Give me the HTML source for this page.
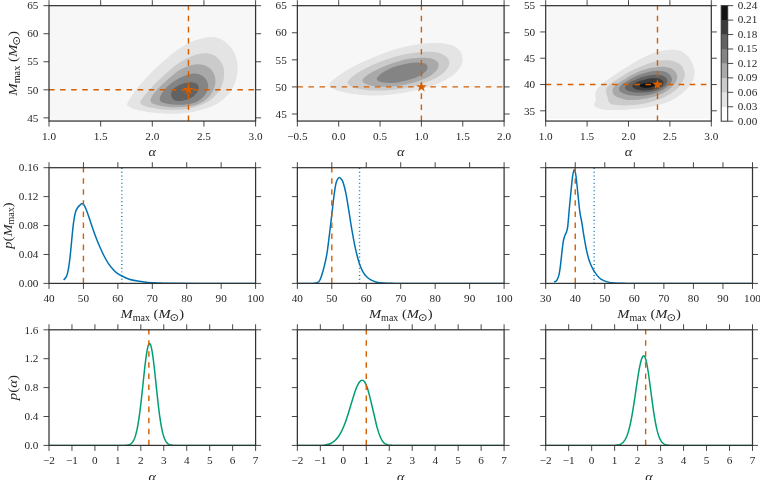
<!DOCTYPE html>
<html><head><meta charset="utf-8"><title>Posterior plots</title>
<style>html,body{margin:0;padding:0;background:#fff}svg{display:block}</style></head>
<body>
<svg width="760" height="480" viewBox="0 0 760 480">
<style>.t{font-family:'Liberation Serif', 'DejaVu Serif', serif;font-size:11.2px;fill:#262626}.l{font-family:'Liberation Serif', 'DejaVu Serif', serif;font-size:13.5px;fill:#262626}</style>
<rect width="760" height="480" fill="#fff"/>
<rect x="49" y="5.67" width="206.6" height="115.38" fill="#f7f7f7"/>
<path d="M127.13,104.11C127.44,102.39 129.32,99.57 131.26,96.6C133.2,93.63 135.95,89.72 138.76,86.29C141.58,82.85 145.02,79.25 148.14,75.97C151.27,72.68 154.4,69.56 157.52,66.59C160.65,63.61 163.78,60.8 166.9,58.14C170.03,55.48 173.16,52.89 176.29,50.64C179.41,48.39 182.54,46.35 185.67,44.63C188.79,42.91 191.92,41.44 195.05,40.32C198.17,39.19 201.61,38.41 204.43,37.88C207.24,37.35 209.43,37.04 211.93,37.13C214.43,37.22 216.94,37.44 219.44,38.44C221.94,39.44 224.75,41.26 226.94,43.13C229.13,45.01 231.01,47.2 232.57,49.7C234.13,52.2 235.48,55.17 236.32,58.14C237.17,61.11 237.57,64.4 237.64,67.52C237.7,70.65 237.39,73.78 236.7,76.9C236.01,80.03 234.98,83.31 233.51,86.29C232.04,89.26 230.23,92.07 227.88,94.73C225.53,97.39 222.72,100.04 219.44,102.23C216.15,104.42 212.25,106.3 208.18,107.86C204.12,109.42 199.74,110.68 195.05,111.61C190.36,112.55 185.04,113.18 180.04,113.49C175.03,113.8 170.03,113.71 165.03,113.49C160.03,113.27 154.71,112.8 150.02,112.18C145.33,111.55 140.33,110.61 136.89,109.74C133.45,108.86 131.01,107.86 129.38,106.92C127.75,105.98 126.82,105.83 127.13,104.11Z" fill="#e4e4e4"/>
<path d="M140.26,102.23C140.42,100.61 142.45,98.17 144.39,95.67C146.33,93.16 149.08,90.19 151.89,87.22C154.71,84.25 158.15,80.81 161.28,77.84C164.4,74.87 167.53,71.99 170.66,69.4C173.78,66.8 176.91,64.3 180.04,62.27C183.16,60.24 186.29,58.58 189.42,57.2C192.55,55.83 195.98,54.67 198.8,54.02C201.61,53.36 203.8,53.05 206.3,53.26C208.81,53.48 211.62,54.2 213.81,55.33C216,56.45 217.87,58.14 219.44,60.02C221,61.89 222.41,64.08 223.19,66.59C223.97,69.09 224.28,72.06 224.13,75.03C223.97,78 223.35,81.44 222.25,84.41C221.16,87.38 219.59,90.19 217.56,92.85C215.53,95.51 212.87,98.32 210.06,100.36C207.24,102.39 204.12,103.7 200.68,105.05C197.24,106.39 193.48,107.64 189.42,108.42C185.35,109.21 180.66,109.55 176.29,109.74C171.91,109.92 167.22,109.86 163.15,109.55C159.09,109.24 155.18,108.55 151.89,107.86C148.61,107.17 145.39,106.36 143.45,105.42C141.51,104.48 140.11,103.86 140.26,102.23Z" fill="#cbcbcb"/>
<path d="M150.39,100.36C150.55,98.73 151.96,96.29 153.77,93.79C155.58,91.29 158.46,88.16 161.28,85.35C164.09,82.53 167.53,79.5 170.66,76.9C173.78,74.31 176.91,71.65 180.04,69.77C183.16,67.9 186.6,66.59 189.42,65.65C192.23,64.71 194.42,64.21 196.92,64.15C199.42,64.08 202.08,64.4 204.43,65.27C206.77,66.15 209.27,67.62 210.99,69.4C212.71,71.18 214.03,73.62 214.75,75.97C215.47,78.31 215.62,80.97 215.31,83.47C215,85.97 214.22,88.47 212.87,90.98C211.53,93.48 209.59,96.35 207.24,98.48C204.9,100.61 202.08,102.39 198.8,103.73C195.52,105.08 191.61,105.95 187.54,106.55C183.48,107.14 178.79,107.39 174.41,107.3C170.03,107.2 164.87,106.61 161.28,105.98C157.68,105.36 154.65,104.48 152.83,103.55C151.02,102.61 150.24,101.98 150.39,100.36Z" fill="#a9a9a9"/>
<path d="M159.77,99.42C159.62,97.76 160.71,95.2 162.21,92.85C163.71,90.51 166.12,87.69 168.78,85.35C171.44,83 175.03,80.56 178.16,78.78C181.29,77 184.73,75.53 187.54,74.65C190.36,73.78 192.7,73.4 195.05,73.53C197.39,73.65 199.74,74.37 201.61,75.4C203.49,76.44 205.21,77.9 206.3,79.72C207.4,81.53 208.18,84.1 208.18,86.29C208.18,88.47 207.4,90.82 206.3,92.85C205.21,94.88 203.65,96.82 201.61,98.48C199.58,100.14 197.08,101.76 194.11,102.8C191.14,103.83 187.39,104.39 183.79,104.67C180.19,104.95 175.97,104.8 172.53,104.48C169.09,104.17 165.28,103.64 163.15,102.8C161.03,101.95 159.93,101.08 159.77,99.42Z" fill="#848484"/>
<path d="M171.03,94.73C171.03,93.01 171.97,90.76 173.47,89.1C174.97,87.44 177.54,85.88 180.04,84.78C182.54,83.69 185.98,82.85 188.48,82.53C190.98,82.22 193.39,82.35 195.05,82.91C196.7,83.47 197.95,84.57 198.42,85.91C198.89,87.25 198.58,89.35 197.86,90.98C197.14,92.6 195.83,94.26 194.11,95.67C192.39,97.07 190.04,98.54 187.54,99.42C185.04,100.29 181.44,100.92 179.1,100.92C176.75,100.92 174.82,100.45 173.47,99.42C172.13,98.39 171.03,96.45 171.03,94.73Z" fill="#626262"/>
<path d="M188.46,121.05V5.67" stroke="#d55e00" stroke-width="1.4" stroke-dasharray="5.54,5.54" fill="none"/>
<path d="M49,89.81H255.6" stroke="#d55e00" stroke-width="1.4" stroke-dasharray="5.54,5.54" fill="none"/>
<path d="M188.46,84.11L189.73,88.05L193.88,88.05L190.53,90.48L191.81,94.42L188.46,91.98L185.1,94.42L186.38,90.48L183.03,88.05L187.18,88.05Z" fill="#d55e00"/>
<rect x="297.35" y="5.67" width="206.75" height="115.38" fill="#f7f7f7"/>
<path d="M329.47,84.86C329.31,83.15 331.78,81.25 333.81,79.34C335.85,77.43 338.75,75.39 341.71,73.42C344.67,71.44 347.96,69.47 351.58,67.5C355.2,65.52 359.14,63.55 363.42,61.58C367.69,59.6 372.63,57.47 377.23,55.66C381.84,53.85 386.44,52.2 391.05,50.72C395.65,49.24 400.26,47.86 404.86,46.78C409.47,45.69 414.07,44.83 418.68,44.21C423.28,43.58 428.22,43.16 432.49,43.03C436.77,42.89 440.72,42.89 444.33,43.42C447.95,43.95 451.5,44.8 454.2,46.18C456.9,47.56 459.14,49.64 460.52,51.71C461.9,53.78 462.39,56.31 462.49,58.62C462.59,60.92 462.16,63.22 461.11,65.52C460.06,67.83 458.31,70.29 456.18,72.43C454.04,74.57 451.57,76.38 448.28,78.35C444.99,80.33 440.72,82.53 436.44,84.27C432.16,86.02 427.56,87.5 422.62,88.81C417.69,90.13 412.1,91.21 406.84,92.17C401.57,93.12 396.31,93.98 391.05,94.54C385.79,95.09 380.52,95.49 375.26,95.52C370,95.55 364.4,95.19 359.47,94.73C354.54,94.27 349.77,93.61 345.66,92.76C341.54,91.9 337.5,90.92 334.8,89.6C332.1,88.29 329.64,86.58 329.47,84.86Z" fill="#e4e4e4"/>
<path d="M347.63,82.3C347.79,80.59 350.26,78.35 352.56,76.38C354.87,74.4 357.99,72.43 361.44,70.46C364.9,68.48 369.01,66.41 373.29,64.54C377.56,62.66 382.5,60.75 387.1,59.21C391.71,57.66 396.31,56.35 400.92,55.26C405.52,54.18 410.13,53.29 414.73,52.7C419.34,52.1 424.6,51.71 428.55,51.71C432.49,51.71 435.45,51.87 438.41,52.7C441.37,53.52 444.5,55.16 446.31,56.64C448.12,58.12 449,59.77 449.27,61.58C449.53,63.39 449.04,65.46 447.89,67.5C446.74,69.54 444.76,71.84 442.36,73.81C439.96,75.79 437.1,77.6 433.48,79.34C429.86,81.08 425.09,82.86 420.65,84.27C416.21,85.69 411.77,86.87 406.84,87.83C401.9,88.78 396.31,89.54 391.05,90C385.79,90.46 380.19,90.72 375.26,90.59C370.33,90.46 365.39,89.86 361.44,89.21C357.5,88.55 353.88,87.79 351.58,86.64C349.27,85.49 347.47,84.01 347.63,82.3Z" fill="#cbcbcb"/>
<path d="M362.43,80.92C362.1,79.4 364.24,77.53 366.38,75.79C368.52,74.04 371.81,72.23 375.26,70.46C378.71,68.68 383.15,66.68 387.1,65.13C391.05,63.58 395,62.27 398.94,61.18C402.89,60.1 406.84,59.21 410.78,58.62C414.73,58.02 419.17,57.63 422.62,57.63C426.08,57.63 429.04,57.89 431.51,58.62C433.97,59.34 436.28,60.66 437.43,61.97C438.58,63.29 438.74,64.93 438.41,66.51C438.08,68.09 437.1,69.73 435.45,71.44C433.81,73.16 431.34,75.19 428.55,76.77C425.75,78.35 422.3,79.67 418.68,80.92C415.06,82.17 411.11,83.38 406.84,84.27C402.56,85.16 397.63,85.85 393.02,86.25C388.42,86.64 383.32,86.87 379.21,86.64C375.1,86.41 371.15,85.82 368.35,84.86C365.56,83.91 362.76,82.43 362.43,80.92Z" fill="#a9a9a9"/>
<path d="M376.84,78.94C376.84,77.73 378.32,75.98 380.19,74.4C382.07,72.83 384.96,70.95 388.09,69.47C391.21,67.99 395.49,66.58 398.94,65.52C402.4,64.47 405.52,63.65 408.81,63.16C412.1,62.66 415.88,62.43 418.68,62.56C421.47,62.7 424.1,63.12 425.59,63.95C427.07,64.77 427.56,66.25 427.56,67.5C427.56,68.75 426.9,70.06 425.59,71.44C424.27,72.83 422.13,74.47 419.66,75.79C417.2,77.1 414.07,78.32 410.78,79.34C407.49,80.36 403.55,81.31 399.93,81.9C396.31,82.5 392.36,82.92 389.07,82.89C385.79,82.86 382.23,82.36 380.19,81.71C378.15,81.05 376.84,80.16 376.84,78.94Z" fill="#848484"/>
<path d="M421.4,121.05V5.67" stroke="#d55e00" stroke-width="1.4" stroke-dasharray="5.54,5.54" fill="none"/>
<path d="M297.35,86.92H504.1" stroke="#d55e00" stroke-width="1.4" stroke-dasharray="5.54,5.54" fill="none"/>
<path d="M421.4,81.22L422.68,85.16L426.82,85.16L423.47,87.6L424.75,91.53L421.4,89.1L418.05,91.53L419.33,87.6L415.98,85.16L420.12,85.16Z" fill="#d55e00"/>
<rect x="548" y="5.67" width="162.1" height="113.18" fill="#f7f7f7"/>
<path d="M594.17,105.83C593.19,104.31 595.64,102.08 595.83,100C596.03,97.92 594.92,95.42 595.33,93.33C595.75,91.25 596.72,89.44 598.33,87.5C599.94,85.56 602.5,83.61 605,81.67C607.5,79.72 610.56,77.78 613.33,75.83C616.11,73.89 618.61,71.94 621.67,70C624.72,68.06 628.33,66.11 631.67,64.17C635,62.22 638.33,60.08 641.67,58.33C645,56.58 648.33,54.92 651.67,53.67C655,52.42 658.33,51.5 661.67,50.83C665,50.17 668.61,49.67 671.67,49.67C674.72,49.67 677.5,49.94 680,50.83C682.5,51.72 684.72,53.19 686.67,55C688.61,56.81 690.42,59.31 691.67,61.67C692.92,64.03 693.75,66.67 694.17,69.17C694.58,71.67 694.72,74.17 694.17,76.67C693.61,79.17 692.36,81.81 690.83,84.17C689.31,86.53 687.36,88.61 685,90.83C682.64,93.06 679.72,95.56 676.67,97.5C673.61,99.44 670.28,101.11 666.67,102.5C663.06,103.89 659.17,104.86 655,105.83C650.83,106.81 646.39,107.69 641.67,108.33C636.94,108.97 631.39,109.39 626.67,109.67C621.94,109.94 617.5,110.08 613.33,110C609.17,109.92 604.86,109.86 601.67,109.17C598.47,108.47 595.14,107.36 594.17,105.83Z" fill="#e4e4e4"/>
<path d="M610,103.33C607.92,101.89 608.19,98.89 607.5,96.67C606.81,94.44 605.42,92.08 605.83,90C606.25,87.92 607.92,86.06 610,84.17C612.08,82.28 615.56,80.47 618.33,78.67C621.11,76.86 623.61,75.06 626.67,73.33C629.72,71.61 633.33,69.86 636.67,68.33C640,66.81 643.33,65.33 646.67,64.17C650,63 653.33,61.97 656.67,61.33C660,60.69 663.61,60.28 666.67,60.33C669.72,60.39 672.64,60.89 675,61.67C677.36,62.44 679.31,63.47 680.83,65C682.36,66.53 683.53,68.89 684.17,70.83C684.81,72.78 685.08,74.58 684.67,76.67C684.25,78.75 683,81.25 681.67,83.33C680.33,85.42 678.89,87.22 676.67,89.17C674.44,91.11 671.39,93.25 668.33,95C665.28,96.75 661.94,98.33 658.33,99.67C654.72,101 650.83,102.11 646.67,103C642.5,103.89 637.78,104.61 633.33,105C628.89,105.39 623.89,105.61 620,105.33C616.11,105.06 612.08,104.78 610,103.33Z" fill="#cbcbcb"/>
<path d="M615,95.83C612.78,94.22 612.36,91.81 612.5,90C612.64,88.19 614.03,86.67 615.83,85C617.64,83.33 620.42,81.81 623.33,80C626.25,78.19 630,75.83 633.33,74.17C636.67,72.5 640,71.11 643.33,70C646.67,68.89 650,68.06 653.33,67.5C656.67,66.94 660.42,66.53 663.33,66.67C666.25,66.81 668.75,67.36 670.83,68.33C672.92,69.31 674.78,70.97 675.83,72.5C676.89,74.03 677.31,75.69 677.17,77.5C677.03,79.31 676.33,81.39 675,83.33C673.67,85.28 671.53,87.36 669.17,89.17C666.81,90.97 663.89,92.78 660.83,94.17C657.78,95.56 654.58,96.58 650.83,97.5C647.08,98.42 642.5,99.31 638.33,99.67C634.17,100.03 629.72,100.31 625.83,99.67C621.94,99.03 617.22,97.44 615,95.83Z" fill="#a9a9a9"/>
<path d="M619.17,90C618.89,88.72 619.44,86.86 620.83,85.33C622.22,83.81 624.86,82.42 627.5,80.83C630.14,79.25 633.47,77.22 636.67,75.83C639.86,74.44 643.33,73.33 646.67,72.5C650,71.67 653.61,70.97 656.67,70.83C659.72,70.69 662.78,70.97 665,71.67C667.22,72.36 668.83,73.61 670,75C671.17,76.39 672.14,78.33 672,80C671.86,81.67 670.75,83.33 669.17,85C667.58,86.67 665.14,88.56 662.5,90C659.86,91.44 656.81,92.69 653.33,93.67C649.86,94.64 645.56,95.56 641.67,95.83C637.78,96.11 633.19,95.81 630,95.33C626.81,94.86 624.31,93.89 622.5,93C620.69,92.11 619.44,91.28 619.17,90Z" fill="#848484"/>
<path d="M625,87.5C625.06,86.19 626.72,84.39 628.67,83C630.61,81.61 633.67,80.36 636.67,79.17C639.67,77.97 643.33,76.58 646.67,75.83C650,75.08 653.75,74.58 656.67,74.67C659.58,74.75 662.36,75.31 664.17,76.33C665.97,77.36 667.36,79.25 667.5,80.83C667.64,82.42 666.53,84.36 665,85.83C663.47,87.31 661.11,88.61 658.33,89.67C655.56,90.72 651.94,91.69 648.33,92.17C644.72,92.64 640,92.72 636.67,92.5C633.33,92.28 630.28,91.67 628.33,90.83C626.39,90 624.94,88.81 625,87.5Z" fill="#626262"/>
<path d="M632.5,86.67C632.08,85.56 633.33,84.06 635,83C636.67,81.94 639.72,81.11 642.5,80.33C645.28,79.56 648.89,78.61 651.67,78.33C654.44,78.06 657.22,78.11 659.17,78.67C661.11,79.22 662.86,80.47 663.33,81.67C663.81,82.86 663.25,84.67 662,85.83C660.75,87 658.39,87.92 655.83,88.67C653.28,89.42 649.72,90.17 646.67,90.33C643.61,90.5 639.86,90.28 637.5,89.67C635.14,89.06 632.92,87.78 632.5,86.67Z" fill="#3b3b3b"/>
<path d="M639.67,85.5C639.81,84.92 641.06,84.14 642.5,83.67C643.94,83.19 646.53,82.78 648.33,82.67C650.14,82.56 652.22,82.67 653.33,83C654.44,83.33 655.14,84.06 655,84.67C654.86,85.28 653.89,86.17 652.5,86.67C651.11,87.17 648.47,87.58 646.67,87.67C644.86,87.75 642.83,87.53 641.67,87.17C640.5,86.81 639.53,86.08 639.67,85.5Z" fill="#121212"/>
<path d="M657.48,121.05V5.67" stroke="#d55e00" stroke-width="1.4" stroke-dasharray="5.54,5.54" fill="none"/>
<path d="M545.7,84.52H711.3" stroke="#d55e00" stroke-width="1.4" stroke-dasharray="5.54,5.54" fill="none"/>
<path d="M657.48,78.82L658.76,82.76L662.9,82.76L659.55,85.19L660.83,89.13L657.48,86.69L654.13,89.13L655.41,85.19L652.06,82.76L656.2,82.76Z" fill="#d55e00"/>
<path d="M49,121.05v5.5M49,5.67v-5.5M100.65,121.05v5.5M100.65,5.67v-5.5M152.3,121.05v5.5M152.3,5.67v-5.5M203.95,121.05v5.5M203.95,5.67v-5.5M255.6,121.05v5.5M255.6,5.67v-5.5M49,117.85h-5.5M255.6,117.85h5.5M49,89.81h-5.5M255.6,89.81h5.5M49,61.76h-5.5M255.6,61.76h5.5M49,33.72h-5.5M255.6,33.72h5.5M49,5.67h-5.5M255.6,5.67h5.5" stroke="#333333" stroke-width="0.9" fill="none"/>
<rect x="49" y="5.67" width="206.6" height="115.38" fill="none" stroke="#333333" stroke-width="1.25"/>
<text x="49" y="139.95" text-anchor="middle" class="t">1.0</text>
<text x="100.65" y="139.95" text-anchor="middle" class="t">1.5</text>
<text x="152.3" y="139.95" text-anchor="middle" class="t">2.0</text>
<text x="203.95" y="139.95" text-anchor="middle" class="t">2.5</text>
<text x="255.6" y="139.95" text-anchor="middle" class="t">3.0</text>
<text x="38.4" y="121.55" text-anchor="end" class="t">45</text>
<text x="38.4" y="93.51" text-anchor="end" class="t">50</text>
<text x="38.4" y="65.46" text-anchor="end" class="t">55</text>
<text x="38.4" y="37.42" text-anchor="end" class="t">60</text>
<text x="38.4" y="9.37" text-anchor="end" class="t">65</text>
<path d="M297.35,121.05v5.5M297.35,5.67v-5.5M338.7,121.05v5.5M338.7,5.67v-5.5M380.05,121.05v5.5M380.05,5.67v-5.5M421.4,121.05v5.5M421.4,5.67v-5.5M462.75,121.05v5.5M462.75,5.67v-5.5M504.1,121.05v5.5M504.1,5.67v-5.5M297.35,114.01h-5.5M504.1,114.01h5.5M297.35,86.92h-5.5M504.1,86.92h5.5M297.35,59.84h-5.5M504.1,59.84h5.5M297.35,32.75h-5.5M504.1,32.75h5.5M297.35,5.67h-5.5M504.1,5.67h5.5" stroke="#333333" stroke-width="0.9" fill="none"/>
<rect x="297.35" y="5.67" width="206.75" height="115.38" fill="none" stroke="#333333" stroke-width="1.25"/>
<text x="297.35" y="139.95" text-anchor="middle" class="t">−0.5</text>
<text x="338.7" y="139.95" text-anchor="middle" class="t">0.0</text>
<text x="380.05" y="139.95" text-anchor="middle" class="t">0.5</text>
<text x="421.4" y="139.95" text-anchor="middle" class="t">1.0</text>
<text x="462.75" y="139.95" text-anchor="middle" class="t">1.5</text>
<text x="504.1" y="139.95" text-anchor="middle" class="t">2.0</text>
<text x="286.75" y="117.71" text-anchor="end" class="t">45</text>
<text x="286.75" y="90.62" text-anchor="end" class="t">50</text>
<text x="286.75" y="63.54" text-anchor="end" class="t">55</text>
<text x="286.75" y="36.45" text-anchor="end" class="t">60</text>
<text x="286.75" y="9.37" text-anchor="end" class="t">65</text>
<path d="M545.7,121.05v5.5M545.7,5.67v-5.5M587.1,121.05v5.5M587.1,5.67v-5.5M628.5,121.05v5.5M628.5,5.67v-5.5M669.9,121.05v5.5M669.9,5.67v-5.5M711.3,121.05v5.5M711.3,5.67v-5.5M545.7,110.8h-5.5M711.3,110.8h5.5M545.7,84.52h-5.5M711.3,84.52h5.5M545.7,58.23h-5.5M711.3,58.23h5.5M545.7,31.95h-5.5M711.3,31.95h5.5M545.7,5.67h-5.5M711.3,5.67h5.5" stroke="#333333" stroke-width="0.9" fill="none"/>
<rect x="545.7" y="5.67" width="165.6" height="115.38" fill="none" stroke="#333333" stroke-width="1.25"/>
<text x="545.7" y="139.95" text-anchor="middle" class="t">1.0</text>
<text x="587.1" y="139.95" text-anchor="middle" class="t">1.5</text>
<text x="628.5" y="139.95" text-anchor="middle" class="t">2.0</text>
<text x="669.9" y="139.95" text-anchor="middle" class="t">2.5</text>
<text x="711.3" y="139.95" text-anchor="middle" class="t">3.0</text>
<text x="535.1" y="114.5" text-anchor="end" class="t">35</text>
<text x="535.1" y="88.22" text-anchor="end" class="t">40</text>
<text x="535.1" y="61.93" text-anchor="end" class="t">45</text>
<text x="535.1" y="35.65" text-anchor="end" class="t">50</text>
<text x="535.1" y="9.37" text-anchor="end" class="t">55</text>
<text transform="translate(152.3,155.95) scale(1.06,1)" text-anchor="middle" class="l"><tspan font-style="italic">α</tspan></text>
<text transform="translate(400.73,155.95) scale(1.06,1)" text-anchor="middle" class="l"><tspan font-style="italic">α</tspan></text>
<text transform="translate(628.5,155.95) scale(1.06,1)" text-anchor="middle" class="l"><tspan font-style="italic">α</tspan></text>
<text transform="translate(17.3,63.36) rotate(-90) scale(1.1,1)" text-anchor="middle" class="l"><tspan font-style="italic">M</tspan><tspan font-size="9.3" dy="2.6">max</tspan><tspan dy="-2.6"> (</tspan><tspan font-style="italic">M</tspan><tspan font-size="10.6" dy="3.0" dx="-0.9" font-family="DejaVu Sans, sans-serif">⊙</tspan><tspan dy="-3.0">)</tspan></text>
<rect x="721.2" y="106.76" width="6.5" height="14.64" fill="#ffffff"/>
<rect x="721.2" y="92.32" width="6.5" height="14.64" fill="#e4e4e4"/>
<rect x="721.2" y="77.88" width="6.5" height="14.64" fill="#cbcbcb"/>
<rect x="721.2" y="63.44" width="6.5" height="14.64" fill="#a9a9a9"/>
<rect x="721.2" y="48.99" width="6.5" height="14.64" fill="#848484"/>
<rect x="721.2" y="34.55" width="6.5" height="14.64" fill="#626262"/>
<rect x="721.2" y="20.11" width="6.5" height="14.64" fill="#3b3b3b"/>
<rect x="721.2" y="5.67" width="6.5" height="14.64" fill="#121212"/>
<rect x="721.2" y="5.67" width="6.5" height="115.53" fill="none" stroke="#333333" stroke-width="1"/>
<text x="737.7" y="124.5" class="t">0.00</text>
<text x="737.7" y="110.06" class="t">0.03</text>
<text x="737.7" y="95.62" class="t">0.06</text>
<text x="737.7" y="81.18" class="t">0.09</text>
<text x="737.7" y="66.73" class="t">0.12</text>
<text x="737.7" y="52.29" class="t">0.15</text>
<text x="737.7" y="37.85" class="t">0.18</text>
<text x="737.7" y="23.41" class="t">0.21</text>
<text x="737.7" y="8.97" class="t">0.24</text>
<path d="M727.7,121.2h5.5M727.7,106.76h5.5M727.7,92.32h5.5M727.7,77.88h5.5M727.7,63.44h5.5M727.7,48.99h5.5M727.7,34.55h5.5M727.7,20.11h5.5M727.7,5.67h5.5" stroke="#333333" stroke-width="0.9" fill="none"/>
<path d="M121.83,283.4V167.7" stroke="#0072b2" stroke-width="1.4" stroke-dasharray="0.95,2.74" fill="none"/>
<clipPath id="cm0"><rect x="49" y="167.7" width="206.6" height="115.7"/></clipPath>
<path d="M63.6,280.05C63.87,279.76 64.73,278.91 65.2,278.3C65.67,277.69 66.08,277.18 66.45,276.4C66.82,275.62 67.11,274.65 67.4,273.6C67.69,272.55 67.88,271.83 68.2,270.1C68.52,268.37 68.92,266.07 69.3,263.2C69.68,260.33 70.12,256.52 70.5,252.9C70.88,249.28 71.23,245.27 71.6,241.45C71.97,237.63 72.33,233.44 72.7,230C73.07,226.56 73.32,223.83 73.8,220.8C74.28,217.77 74.95,214 75.6,211.8C76.25,209.6 76.95,208.73 77.7,207.6C78.45,206.47 79.37,205.67 80.1,205C80.83,204.33 81.38,203.5 82.1,203.6C82.82,203.7 83.5,204.05 84.4,205.6C85.3,207.15 86.28,209.6 87.5,212.9C88.72,216.2 90.32,221.4 91.7,225.4C93.08,229.4 94.42,233.25 95.8,236.9C97.18,240.55 98.6,244.08 100,247.3C101.4,250.53 102.82,253.58 104.2,256.25C105.58,258.92 106.92,261.22 108.3,263.3C109.68,265.38 111.1,267.15 112.5,268.75C113.9,270.35 115.13,271.69 116.7,272.9C118.27,274.11 119.82,274.95 121.9,276C123.98,277.05 126.6,278.37 129.2,279.2C131.8,280.03 134.38,280.47 137.5,281C140.62,281.53 144.43,282.07 147.9,282.4C151.37,282.73 154.62,282.85 158.3,283C161.98,283.15 163.05,283.21 170,283.3C176.95,283.39 185.67,283.5 200,283.55C214.33,283.6 246.67,283.59 256,283.6" stroke="#0072b2" stroke-width="1.5" fill="none" stroke-linejoin="round" clip-path="url(#cm0)"/>
<path d="M83.43,283.4V167.7" stroke="#d55e00" stroke-width="1.4" stroke-dasharray="5.54,5.54" fill="none"/>
<path d="M359.55,283.4V167.7" stroke="#0072b2" stroke-width="1.4" stroke-dasharray="0.95,2.74" fill="none"/>
<clipPath id="cm1"><rect x="297.35" y="167.7" width="206.75" height="115.7"/></clipPath>
<path d="M297.4,283.6C299.33,283.59 306.57,283.58 309,283.55C311.43,283.52 311.08,283.47 312,283.4C312.92,283.33 313.67,283.28 314.5,283.15C315.33,283.02 316.23,282.89 317,282.6C317.77,282.31 318.43,282.3 319.1,281.4C319.78,280.5 320.4,278.93 321.05,277.2C321.7,275.47 322.34,273.33 323,271C323.66,268.67 324.3,266.37 325,263.2C325.7,260.03 326.4,257.28 327.2,252C328,246.72 329,238.03 329.8,231.5C330.6,224.97 331.32,218.62 332,212.8C332.68,206.98 333.27,201.33 333.9,196.6C334.52,191.87 335.17,187.25 335.75,184.4C336.33,181.55 336.81,180.63 337.4,179.5C337.99,178.37 338.67,177.68 339.3,177.6C339.93,177.52 340.53,178.1 341.2,179C341.87,179.9 342.5,180.52 343.3,183C344.1,185.48 345.09,189.38 346,193.9C346.91,198.42 347.83,204.47 348.75,210.1C349.67,215.73 350.59,222.28 351.5,227.7C352.41,233.12 353.3,238.08 354.2,242.6C355.1,247.12 356,251.18 356.9,254.8C357.8,258.42 358.62,261.5 359.6,264.3C360.58,267.1 361.67,269.57 362.8,271.6C363.93,273.63 365.13,275.15 366.4,276.5C367.67,277.85 368.83,278.8 370.4,279.7C371.97,280.6 373.53,281.33 375.8,281.9C378.07,282.47 380.83,282.85 384,283.1C387.17,283.35 390.47,283.32 394.8,283.4C399.13,283.48 391.8,283.57 410,283.6C428.2,283.63 488.33,283.6 504,283.6" stroke="#0072b2" stroke-width="1.5" fill="none" stroke-linejoin="round" clip-path="url(#cm1)"/>
<path d="M331.81,283.4V167.7" stroke="#d55e00" stroke-width="1.4" stroke-dasharray="5.54,5.54" fill="none"/>
<path d="M594.15,283.4V167.7" stroke="#0072b2" stroke-width="1.4" stroke-dasharray="0.95,2.74" fill="none"/>
<clipPath id="cm2"><rect x="545.7" y="167.7" width="206.8" height="115.7"/></clipPath>
<path d="M554,281.8C554.25,281.72 555.03,281.55 555.5,281.3C555.97,281.05 556.24,281.28 556.8,280.3C557.36,279.32 558.27,277.68 558.85,275.4C559.43,273.12 559.81,270.25 560.3,266.6C560.79,262.95 561.32,257.62 561.8,253.5C562.28,249.38 562.72,244.82 563.2,241.9C563.68,238.98 564.13,237.7 564.7,236C565.27,234.3 566.08,233.4 566.6,231.7C567.12,230 567.35,229.62 567.8,225.8C568.25,221.98 568.72,214.98 569.3,208.75C569.88,202.52 570.75,193.82 571.3,188.4C571.85,182.98 572.08,179.4 572.6,176.25C573.12,173.1 573.83,169.5 574.4,169.5C574.97,169.5 575.42,172.18 576,176.25C576.58,180.32 577.27,188.03 577.9,193.9C578.53,199.78 579.12,206.55 579.8,211.5C580.48,216.45 581.28,219.32 582,223.6C582.72,227.88 583.33,232.68 584.1,237.2C584.87,241.72 585.73,246.77 586.6,250.7C587.47,254.62 588.27,257.72 589.3,260.75C590.33,263.78 591.53,266.51 592.8,268.9C594.07,271.29 595.55,273.38 596.9,275.1C598.25,276.82 599.32,278.12 600.9,279.2C602.48,280.28 604.13,280.95 606.4,281.6C608.67,282.25 611.12,282.8 614.5,283.1C617.88,283.4 621.62,283.32 626.7,283.4C631.78,283.48 624.12,283.57 645,283.6C665.88,283.63 734.17,283.6 752,283.6" stroke="#0072b2" stroke-width="1.5" fill="none" stroke-linejoin="round" clip-path="url(#cm2)"/>
<path d="M575.24,283.4V167.7" stroke="#d55e00" stroke-width="1.4" stroke-dasharray="5.54,5.54" fill="none"/>
<path d="M49,283.4v5.5M49,167.7v-5.5M83.43,283.4v5.5M83.43,167.7v-5.5M117.87,283.4v5.5M117.87,167.7v-5.5M152.3,283.4v5.5M152.3,167.7v-5.5M186.73,283.4v5.5M186.73,167.7v-5.5M221.17,283.4v5.5M221.17,167.7v-5.5M255.6,283.4v5.5M255.6,167.7v-5.5M49,283.4h-5.5M255.6,283.4h5.5M49,254.47h-5.5M255.6,254.47h5.5M49,225.55h-5.5M255.6,225.55h5.5M49,196.62h-5.5M255.6,196.62h5.5M49,167.7h-5.5M255.6,167.7h5.5" stroke="#333333" stroke-width="0.9" fill="none"/>
<rect x="49" y="167.7" width="206.6" height="115.7" fill="none" stroke="#333333" stroke-width="1.25"/>
<text x="49" y="302.3" text-anchor="middle" class="t">40</text>
<text x="83.43" y="302.3" text-anchor="middle" class="t">50</text>
<text x="117.87" y="302.3" text-anchor="middle" class="t">60</text>
<text x="152.3" y="302.3" text-anchor="middle" class="t">70</text>
<text x="186.73" y="302.3" text-anchor="middle" class="t">80</text>
<text x="221.17" y="302.3" text-anchor="middle" class="t">90</text>
<text x="255.6" y="302.3" text-anchor="middle" class="t">100</text>
<text x="38.4" y="287.1" text-anchor="end" class="t">0.00</text>
<text x="38.4" y="258.17" text-anchor="end" class="t">0.04</text>
<text x="38.4" y="229.25" text-anchor="end" class="t">0.08</text>
<text x="38.4" y="200.32" text-anchor="end" class="t">0.12</text>
<text x="38.4" y="171.4" text-anchor="end" class="t">0.16</text>
<path d="M297.35,283.4v5.5M297.35,167.7v-5.5M331.81,283.4v5.5M331.81,167.7v-5.5M366.27,283.4v5.5M366.27,167.7v-5.5M400.73,283.4v5.5M400.73,167.7v-5.5M435.18,283.4v5.5M435.18,167.7v-5.5M469.64,283.4v5.5M469.64,167.7v-5.5M504.1,283.4v5.5M504.1,167.7v-5.5M297.35,283.4h-5.5M504.1,283.4h5.5M297.35,254.47h-5.5M504.1,254.47h5.5M297.35,225.55h-5.5M504.1,225.55h5.5M297.35,196.62h-5.5M504.1,196.62h5.5M297.35,167.7h-5.5M504.1,167.7h5.5" stroke="#333333" stroke-width="0.9" fill="none"/>
<rect x="297.35" y="167.7" width="206.75" height="115.7" fill="none" stroke="#333333" stroke-width="1.25"/>
<text x="297.35" y="302.3" text-anchor="middle" class="t">40</text>
<text x="331.81" y="302.3" text-anchor="middle" class="t">50</text>
<text x="366.27" y="302.3" text-anchor="middle" class="t">60</text>
<text x="400.73" y="302.3" text-anchor="middle" class="t">70</text>
<text x="435.18" y="302.3" text-anchor="middle" class="t">80</text>
<text x="469.64" y="302.3" text-anchor="middle" class="t">90</text>
<text x="504.1" y="302.3" text-anchor="middle" class="t">100</text>
<path d="M545.7,283.4v5.5M545.7,167.7v-5.5M575.24,283.4v5.5M575.24,167.7v-5.5M604.79,283.4v5.5M604.79,167.7v-5.5M634.33,283.4v5.5M634.33,167.7v-5.5M663.87,283.4v5.5M663.87,167.7v-5.5M693.41,283.4v5.5M693.41,167.7v-5.5M722.96,283.4v5.5M722.96,167.7v-5.5M752.5,283.4v5.5M752.5,167.7v-5.5M545.7,283.4h-5.5M752.5,283.4h5.5M545.7,254.47h-5.5M752.5,254.47h5.5M545.7,225.55h-5.5M752.5,225.55h5.5M545.7,196.62h-5.5M752.5,196.62h5.5M545.7,167.7h-5.5M752.5,167.7h5.5" stroke="#333333" stroke-width="0.9" fill="none"/>
<rect x="545.7" y="167.7" width="206.8" height="115.7" fill="none" stroke="#333333" stroke-width="1.25"/>
<text x="545.7" y="302.3" text-anchor="middle" class="t">30</text>
<text x="575.24" y="302.3" text-anchor="middle" class="t">40</text>
<text x="604.79" y="302.3" text-anchor="middle" class="t">50</text>
<text x="634.33" y="302.3" text-anchor="middle" class="t">60</text>
<text x="663.87" y="302.3" text-anchor="middle" class="t">70</text>
<text x="693.41" y="302.3" text-anchor="middle" class="t">80</text>
<text x="722.96" y="302.3" text-anchor="middle" class="t">90</text>
<text x="752.5" y="302.3" text-anchor="middle" class="t">100</text>
<text transform="translate(152.3,317.9) scale(1.08,1)" text-anchor="middle" class="l"><tspan font-style="italic">M</tspan><tspan font-size="9.3" dy="2.6">max</tspan><tspan dy="-2.6"> (</tspan><tspan font-style="italic">M</tspan><tspan font-size="10.6" dy="3.0" dx="-0.9" font-family="DejaVu Sans, sans-serif">⊙</tspan><tspan dy="-3.0">)</tspan></text>
<text transform="translate(400.73,317.9) scale(1.08,1)" text-anchor="middle" class="l"><tspan font-style="italic">M</tspan><tspan font-size="9.3" dy="2.6">max</tspan><tspan dy="-2.6"> (</tspan><tspan font-style="italic">M</tspan><tspan font-size="10.6" dy="3.0" dx="-0.9" font-family="DejaVu Sans, sans-serif">⊙</tspan><tspan dy="-3.0">)</tspan></text>
<text transform="translate(649.1,317.9) scale(1.08,1)" text-anchor="middle" class="l"><tspan font-style="italic">M</tspan><tspan font-size="9.3" dy="2.6">max</tspan><tspan dy="-2.6"> (</tspan><tspan font-style="italic">M</tspan><tspan font-size="10.6" dy="3.0" dx="-0.9" font-family="DejaVu Sans, sans-serif">⊙</tspan><tspan dy="-3.0">)</tspan></text>
<text transform="translate(11.5,225.55) rotate(-90) scale(1.08,1)" text-anchor="middle" class="l"><tspan font-style="italic">p</tspan>(<tspan font-style="italic">M</tspan><tspan font-size="9.3" dy="2.6">max</tspan><tspan dy="-2.6">)</tspan></text>
<clipPath id="ca0"><rect x="49" y="329.8" width="206.6" height="115.6"/></clipPath>
<path d="M49,445.6L49.52,445.6L50.04,445.6L50.55,445.6L51.07,445.6L51.59,445.6L52.11,445.6L52.62,445.6L53.14,445.6L53.66,445.6L54.18,445.6L54.7,445.6L55.21,445.6L55.73,445.6L56.25,445.6L56.77,445.6L57.28,445.6L57.8,445.6L58.32,445.6L58.84,445.6L59.36,445.6L59.87,445.6L60.39,445.6L60.91,445.6L61.43,445.6L61.94,445.6L62.46,445.6L62.98,445.6L63.5,445.6L64.02,445.6L64.53,445.6L65.05,445.6L65.57,445.6L66.09,445.6L66.61,445.6L67.12,445.6L67.64,445.6L68.16,445.6L68.68,445.6L69.19,445.6L69.71,445.6L70.23,445.6L70.75,445.6L71.27,445.6L71.78,445.6L72.3,445.6L72.82,445.6L73.34,445.6L73.85,445.6L74.37,445.6L74.89,445.6L75.41,445.6L75.93,445.6L76.44,445.6L76.96,445.6L77.48,445.6L78,445.6L78.51,445.6L79.03,445.6L79.55,445.6L80.07,445.6L80.59,445.6L81.1,445.6L81.62,445.6L82.14,445.6L82.66,445.6L83.17,445.6L83.69,445.6L84.21,445.6L84.73,445.6L85.25,445.6L85.76,445.6L86.28,445.6L86.8,445.6L87.32,445.6L87.83,445.6L88.35,445.6L88.87,445.6L89.39,445.6L89.91,445.6L90.42,445.6L90.94,445.6L91.46,445.6L91.98,445.6L92.49,445.6L93.01,445.6L93.53,445.6L94.05,445.6L94.57,445.6L95.08,445.6L95.6,445.6L96.12,445.6L96.64,445.6L97.15,445.6L97.67,445.6L98.19,445.6L98.71,445.6L99.23,445.6L99.74,445.6L100.26,445.6L100.78,445.6L101.3,445.6L101.82,445.6L102.33,445.6L102.85,445.6L103.37,445.6L103.89,445.6L104.4,445.6L104.92,445.6L105.44,445.6L105.96,445.6L106.48,445.6L106.99,445.6L107.51,445.6L108.03,445.6L108.55,445.6L109.06,445.6L109.58,445.6L110.1,445.6L110.62,445.6L111.14,445.6L111.65,445.6L112.17,445.6L112.69,445.6L113.21,445.6L113.72,445.6L114.24,445.6L114.76,445.6L115.28,445.6L115.8,445.6L116.31,445.6L116.83,445.6L117.35,445.6L117.87,445.6L118.38,445.6L118.9,445.6L119.42,445.6L119.94,445.6L120.46,445.6L120.97,445.59L121.49,445.59L122.01,445.59L122.53,445.58L123.04,445.58L123.56,445.57L124.08,445.55L124.6,445.54L125.12,445.51L125.63,445.48L126.15,445.24L126.67,445.19L127.19,445.13L127.7,445.04L128.22,444.93L128.74,444.8L129.26,444.62L129.78,444.41L130.29,444.14L130.81,443.81L131.33,443.4L131.85,442.91L132.36,442.31L132.88,441.6L133.4,440.76L133.92,439.76L134.44,438.59L134.95,437.22L135.47,435.65L135.99,433.85L136.51,431.8L137.03,429.5L137.54,426.91L138.06,424.05L138.58,420.9L139.1,417.46L139.61,413.74L140.13,409.75L140.65,405.51L141.17,401.05L141.69,396.4L142.2,391.61L142.72,386.73L143.24,381.81L143.76,376.91L144.27,372.1L144.79,367.45L145.31,363.03L145.83,358.92L146.35,355.17L146.86,351.85L147.38,349.03L147.9,346.75L148.42,345.05L148.93,343.98L149.45,343.54L149.97,343.75L150.49,344.62L151.01,346.12L151.52,348.24L152.04,350.92L152.56,354.13L153.08,357.8L153.59,361.86L154.11,366.25L154.63,370.9L155.15,375.73L155.67,380.66L156.18,385.63L156.7,390.58L157.22,395.45L157.74,400.18L158.25,404.72L158.77,409.05L159.29,413.12L159.81,416.92L160.33,420.44L160.84,423.67L161.36,426.6L161.88,429.24L162.4,431.6L162.91,433.69L163.43,435.53L163.95,437.13L164.47,438.52L164.99,439.71L165.5,440.73L166.02,441.59L166.54,442.31L167.06,442.91L167.57,443.41L168.09,443.82L168.61,444.15L169.13,444.42L169.65,444.63L170.16,444.81L170.68,444.94L171.2,445.05L171.72,445.13L172.24,445.2L172.75,445.25L173.27,445.49L173.79,445.52L174.31,445.54L174.82,445.56L175.34,445.57L175.86,445.58L176.38,445.58L176.9,445.59L177.41,445.59L177.93,445.59L178.45,445.6L178.97,445.6L179.48,445.6L180,445.6L180.52,445.6L181.04,445.6L181.56,445.6L182.07,445.6L182.59,445.6L183.11,445.6L183.63,445.6L184.14,445.6L184.66,445.6L185.18,445.6L185.7,445.6L186.22,445.6L186.73,445.6L187.25,445.6L187.77,445.6L188.29,445.6L188.8,445.6L189.32,445.6L189.84,445.6L190.36,445.6L190.88,445.6L191.39,445.6L191.91,445.6L192.43,445.6L192.95,445.6L193.46,445.6L193.98,445.6L194.5,445.6L195.02,445.6L195.54,445.6L196.05,445.6L196.57,445.6L197.09,445.6L197.61,445.6L198.12,445.6L198.64,445.6L199.16,445.6L199.68,445.6L200.2,445.6L200.71,445.6L201.23,445.6L201.75,445.6L202.27,445.6L202.78,445.6L203.3,445.6L203.82,445.6L204.34,445.6L204.86,445.6L205.37,445.6L205.89,445.6L206.41,445.6L206.93,445.6L207.45,445.6L207.96,445.6L208.48,445.6L209,445.6L209.52,445.6L210.03,445.6L210.55,445.6L211.07,445.6L211.59,445.6L212.11,445.6L212.62,445.6L213.14,445.6L213.66,445.6L214.18,445.6L214.69,445.6L215.21,445.6L215.73,445.6L216.25,445.6L216.77,445.6L217.28,445.6L217.8,445.6L218.32,445.6L218.84,445.6L219.35,445.6L219.87,445.6L220.39,445.6L220.91,445.6L221.43,445.6L221.94,445.6L222.46,445.6L222.98,445.6L223.5,445.6L224.01,445.6L224.53,445.6L225.05,445.6L225.57,445.6L226.09,445.6L226.6,445.6L227.12,445.6L227.64,445.6L228.16,445.6L228.67,445.6L229.19,445.6L229.71,445.6L230.23,445.6L230.75,445.6L231.26,445.6L231.78,445.6L232.3,445.6L232.82,445.6L233.33,445.6L233.85,445.6L234.37,445.6L234.89,445.6L235.41,445.6L235.92,445.6L236.44,445.6L236.96,445.6L237.48,445.6L237.99,445.6L238.51,445.6L239.03,445.6L239.55,445.6L240.07,445.6L240.58,445.6L241.1,445.6L241.62,445.6L242.14,445.6L242.66,445.6L243.17,445.6L243.69,445.6L244.21,445.6L244.73,445.6L245.24,445.6L245.76,445.6L246.28,445.6L246.8,445.6L247.32,445.6L247.83,445.6L248.35,445.6L248.87,445.6L249.39,445.6L249.9,445.6L250.42,445.6L250.94,445.6L251.46,445.6L251.98,445.6L252.49,445.6L253.01,445.6L253.53,445.6L254.05,445.6L254.56,445.6L255.08,445.6L255.6,445.6" stroke="#009e73" stroke-width="1.5" fill="none" stroke-linejoin="round" clip-path="url(#ca0)"/>
<path d="M148.86,445.4V329.8" stroke="#d55e00" stroke-width="1.4" stroke-dasharray="5.54,5.54" fill="none"/>
<clipPath id="ca1"><rect x="297.35" y="329.8" width="206.75" height="115.6"/></clipPath>
<path d="M297.4,445.6C300.17,445.6 310.4,445.62 314,445.6C317.6,445.58 317.28,445.57 319,445.5C320.72,445.43 322.33,445.53 324.3,445.2C326.27,444.87 328.85,444.43 330.8,443.5C332.75,442.57 334.26,441.55 336,439.6C337.74,437.65 339.72,434.62 341.25,431.8C342.78,428.98 343.89,426.18 345.2,422.7C346.51,419.22 347.8,415.03 349.1,410.9C350.4,406.77 351.78,401.75 353,397.9C354.22,394.05 355.32,390.45 356.4,387.8C357.48,385.15 358.55,383.25 359.5,382C360.45,380.75 361.23,380.3 362.1,380.3C362.97,380.3 363.83,380.75 364.7,382C365.57,383.25 366.35,384.93 367.3,387.8C368.25,390.67 369.32,394.92 370.4,399.2C371.48,403.48 372.67,408.72 373.8,413.5C374.93,418.28 376.12,423.98 377.2,427.9C378.28,431.82 379.22,434.53 380.3,437C381.38,439.47 382.4,441.38 383.7,442.7C385,444.02 386.72,444.51 388.1,444.95C389.48,445.39 390.35,445.24 392,445.35C393.65,445.46 379.33,445.56 398,445.6C416.67,445.64 486.33,445.6 504,445.6" stroke="#009e73" stroke-width="1.5" fill="none" stroke-linejoin="round" clip-path="url(#ca1)"/>
<path d="M366.27,445.4V329.8" stroke="#d55e00" stroke-width="1.4" stroke-dasharray="5.54,5.54" fill="none"/>
<clipPath id="ca2"><rect x="545.7" y="329.8" width="206.8" height="115.6"/></clipPath>
<path d="M545.7,445.6L546.22,445.6L546.74,445.6L547.25,445.6L547.77,445.6L548.29,445.6L548.81,445.6L549.33,445.6L549.85,445.6L550.36,445.6L550.88,445.6L551.4,445.6L551.92,445.6L552.44,445.6L552.96,445.6L553.47,445.6L553.99,445.6L554.51,445.6L555.03,445.6L555.55,445.6L556.07,445.6L556.58,445.6L557.1,445.6L557.62,445.6L558.14,445.6L558.66,445.6L559.18,445.6L559.69,445.6L560.21,445.6L560.73,445.6L561.25,445.6L561.77,445.6L562.29,445.6L562.8,445.6L563.32,445.6L563.84,445.6L564.36,445.6L564.88,445.6L565.4,445.6L565.91,445.6L566.43,445.6L566.95,445.6L567.47,445.6L567.99,445.6L568.51,445.6L569.02,445.6L569.54,445.6L570.06,445.6L570.58,445.6L571.1,445.6L571.61,445.6L572.13,445.6L572.65,445.6L573.17,445.6L573.69,445.6L574.21,445.6L574.72,445.6L575.24,445.6L575.76,445.6L576.28,445.6L576.8,445.6L577.32,445.6L577.83,445.6L578.35,445.6L578.87,445.6L579.39,445.6L579.91,445.6L580.43,445.6L580.94,445.6L581.46,445.6L581.98,445.6L582.5,445.6L583.02,445.6L583.54,445.6L584.05,445.6L584.57,445.6L585.09,445.6L585.61,445.6L586.13,445.6L586.65,445.6L587.16,445.6L587.68,445.6L588.2,445.6L588.72,445.6L589.24,445.6L589.76,445.6L590.27,445.6L590.79,445.6L591.31,445.6L591.83,445.6L592.35,445.6L592.86,445.6L593.38,445.6L593.9,445.6L594.42,445.6L594.94,445.6L595.46,445.6L595.97,445.6L596.49,445.6L597.01,445.6L597.53,445.6L598.05,445.6L598.57,445.6L599.08,445.6L599.6,445.6L600.12,445.6L600.64,445.6L601.16,445.6L601.68,445.6L602.19,445.6L602.71,445.6L603.23,445.6L603.75,445.6L604.27,445.6L604.79,445.6L605.3,445.6L605.82,445.6L606.34,445.6L606.86,445.6L607.38,445.6L607.9,445.6L608.41,445.6L608.93,445.59L609.45,445.59L609.97,445.59L610.49,445.59L611.01,445.58L611.52,445.58L612.04,445.57L612.56,445.56L613.08,445.55L613.6,445.53L614.12,445.51L614.63,445.49L615.15,445.46L615.67,445.22L616.19,445.18L616.71,445.12L617.22,445.06L617.74,444.97L618.26,444.87L618.78,444.75L619.3,444.61L619.82,444.43L620.33,444.23L620.85,443.98L621.37,443.69L621.89,443.35L622.41,442.96L622.93,442.5L623.44,441.96L623.96,441.35L624.48,440.64L625,439.84L625.52,438.93L626.04,437.91L626.55,436.75L627.07,435.47L627.59,434.03L628.11,432.45L628.63,430.71L629.15,428.81L629.66,426.74L630.18,424.5L630.7,422.09L631.22,419.51L631.74,416.77L632.26,413.88L632.77,410.83L633.29,407.66L633.81,404.37L634.33,400.98L634.85,397.52L635.37,394L635.88,390.46L636.4,386.93L636.92,383.43L637.44,380L637.96,376.68L638.47,373.49L638.99,370.47L639.51,367.66L640.03,365.08L640.55,362.77L641.07,360.76L641.58,359.06L642.1,357.7L642.62,356.7L643.14,356.07L643.66,355.82L644.18,355.98L644.69,356.61L645.21,357.71L645.73,359.27L646.25,361.24L646.77,363.61L647.29,366.34L647.8,369.39L648.32,372.71L648.84,376.26L649.36,379.99L649.88,383.84L650.4,387.78L650.91,391.76L651.43,395.73L651.95,399.65L652.47,403.48L652.99,407.2L653.51,410.78L654.02,414.19L654.54,417.41L655.06,420.44L655.58,423.26L656.1,425.86L656.62,428.25L657.13,430.43L657.65,432.4L658.17,434.17L658.69,435.76L659.21,437.16L659.73,438.4L660.24,439.48L660.76,440.42L661.28,441.24L661.8,441.94L662.32,442.53L662.83,443.04L663.35,443.47L663.87,443.83L664.39,444.13L664.91,444.37L665.43,444.58L665.94,444.75L666.46,444.88L666.98,444.99L667.5,445.08L668.02,445.15L668.54,445.21L669.05,445.25L669.57,445.49L670.09,445.51L670.61,445.53L671.13,445.55L671.65,445.56L672.16,445.57L672.68,445.58L673.2,445.58L673.72,445.59L674.24,445.59L674.76,445.59L675.27,445.6L675.79,445.6L676.31,445.6L676.83,445.6L677.35,445.6L677.87,445.6L678.38,445.6L678.9,445.6L679.42,445.6L679.94,445.6L680.46,445.6L680.98,445.6L681.49,445.6L682.01,445.6L682.53,445.6L683.05,445.6L683.57,445.6L684.08,445.6L684.6,445.6L685.12,445.6L685.64,445.6L686.16,445.6L686.68,445.6L687.19,445.6L687.71,445.6L688.23,445.6L688.75,445.6L689.27,445.6L689.79,445.6L690.3,445.6L690.82,445.6L691.34,445.6L691.86,445.6L692.38,445.6L692.9,445.6L693.41,445.6L693.93,445.6L694.45,445.6L694.97,445.6L695.49,445.6L696.01,445.6L696.52,445.6L697.04,445.6L697.56,445.6L698.08,445.6L698.6,445.6L699.12,445.6L699.63,445.6L700.15,445.6L700.67,445.6L701.19,445.6L701.71,445.6L702.23,445.6L702.74,445.6L703.26,445.6L703.78,445.6L704.3,445.6L704.82,445.6L705.34,445.6L705.85,445.6L706.37,445.6L706.89,445.6L707.41,445.6L707.93,445.6L708.44,445.6L708.96,445.6L709.48,445.6L710,445.6L710.52,445.6L711.04,445.6L711.55,445.6L712.07,445.6L712.59,445.6L713.11,445.6L713.63,445.6L714.15,445.6L714.66,445.6L715.18,445.6L715.7,445.6L716.22,445.6L716.74,445.6L717.26,445.6L717.77,445.6L718.29,445.6L718.81,445.6L719.33,445.6L719.85,445.6L720.37,445.6L720.88,445.6L721.4,445.6L721.92,445.6L722.44,445.6L722.96,445.6L723.48,445.6L723.99,445.6L724.51,445.6L725.03,445.6L725.55,445.6L726.07,445.6L726.59,445.6L727.1,445.6L727.62,445.6L728.14,445.6L728.66,445.6L729.18,445.6L729.69,445.6L730.21,445.6L730.73,445.6L731.25,445.6L731.77,445.6L732.29,445.6L732.8,445.6L733.32,445.6L733.84,445.6L734.36,445.6L734.88,445.6L735.4,445.6L735.91,445.6L736.43,445.6L736.95,445.6L737.47,445.6L737.99,445.6L738.51,445.6L739.02,445.6L739.54,445.6L740.06,445.6L740.58,445.6L741.1,445.6L741.62,445.6L742.13,445.6L742.65,445.6L743.17,445.6L743.69,445.6L744.21,445.6L744.73,445.6L745.24,445.6L745.76,445.6L746.28,445.6L746.8,445.6L747.32,445.6L747.84,445.6L748.35,445.6L748.87,445.6L749.39,445.6L749.91,445.6L750.43,445.6L750.95,445.6L751.46,445.6L751.98,445.6L752.5,445.6" stroke="#009e73" stroke-width="1.5" fill="none" stroke-linejoin="round" clip-path="url(#ca2)"/>
<path d="M645.65,445.4V329.8" stroke="#d55e00" stroke-width="1.4" stroke-dasharray="5.54,5.54" fill="none"/>
<path d="M49,445.4v5.5M49,329.8v-5.5M71.96,445.4v5.5M71.96,329.8v-5.5M94.91,445.4v5.5M94.91,329.8v-5.5M117.87,445.4v5.5M117.87,329.8v-5.5M140.82,445.4v5.5M140.82,329.8v-5.5M163.78,445.4v5.5M163.78,329.8v-5.5M186.73,445.4v5.5M186.73,329.8v-5.5M209.69,445.4v5.5M209.69,329.8v-5.5M232.64,445.4v5.5M232.64,329.8v-5.5M255.6,445.4v5.5M255.6,329.8v-5.5M49,445.4h-5.5M255.6,445.4h5.5M49,416.5h-5.5M255.6,416.5h5.5M49,387.6h-5.5M255.6,387.6h5.5M49,358.7h-5.5M255.6,358.7h5.5M49,329.8h-5.5M255.6,329.8h5.5" stroke="#333333" stroke-width="0.9" fill="none"/>
<rect x="49" y="329.8" width="206.6" height="115.6" fill="none" stroke="#333333" stroke-width="1.25"/>
<text x="49" y="464.3" text-anchor="middle" class="t">−2</text>
<text x="71.96" y="464.3" text-anchor="middle" class="t">−1</text>
<text x="94.91" y="464.3" text-anchor="middle" class="t">0</text>
<text x="117.87" y="464.3" text-anchor="middle" class="t">1</text>
<text x="140.82" y="464.3" text-anchor="middle" class="t">2</text>
<text x="163.78" y="464.3" text-anchor="middle" class="t">3</text>
<text x="186.73" y="464.3" text-anchor="middle" class="t">4</text>
<text x="209.69" y="464.3" text-anchor="middle" class="t">5</text>
<text x="232.64" y="464.3" text-anchor="middle" class="t">6</text>
<text x="255.6" y="464.3" text-anchor="middle" class="t">7</text>
<text x="38.4" y="449.1" text-anchor="end" class="t">0.0</text>
<text x="38.4" y="420.2" text-anchor="end" class="t">0.4</text>
<text x="38.4" y="391.3" text-anchor="end" class="t">0.8</text>
<text x="38.4" y="362.4" text-anchor="end" class="t">1.2</text>
<text x="38.4" y="333.5" text-anchor="end" class="t">1.6</text>
<path d="M297.35,445.4v5.5M297.35,329.8v-5.5M320.32,445.4v5.5M320.32,329.8v-5.5M343.29,445.4v5.5M343.29,329.8v-5.5M366.27,445.4v5.5M366.27,329.8v-5.5M389.24,445.4v5.5M389.24,329.8v-5.5M412.21,445.4v5.5M412.21,329.8v-5.5M435.18,445.4v5.5M435.18,329.8v-5.5M458.16,445.4v5.5M458.16,329.8v-5.5M481.13,445.4v5.5M481.13,329.8v-5.5M504.1,445.4v5.5M504.1,329.8v-5.5M297.35,445.4h-5.5M504.1,445.4h5.5M297.35,416.5h-5.5M504.1,416.5h5.5M297.35,387.6h-5.5M504.1,387.6h5.5M297.35,358.7h-5.5M504.1,358.7h5.5M297.35,329.8h-5.5M504.1,329.8h5.5" stroke="#333333" stroke-width="0.9" fill="none"/>
<rect x="297.35" y="329.8" width="206.75" height="115.6" fill="none" stroke="#333333" stroke-width="1.25"/>
<text x="297.35" y="464.3" text-anchor="middle" class="t">−2</text>
<text x="320.32" y="464.3" text-anchor="middle" class="t">−1</text>
<text x="343.29" y="464.3" text-anchor="middle" class="t">0</text>
<text x="366.27" y="464.3" text-anchor="middle" class="t">1</text>
<text x="389.24" y="464.3" text-anchor="middle" class="t">2</text>
<text x="412.21" y="464.3" text-anchor="middle" class="t">3</text>
<text x="435.18" y="464.3" text-anchor="middle" class="t">4</text>
<text x="458.16" y="464.3" text-anchor="middle" class="t">5</text>
<text x="481.13" y="464.3" text-anchor="middle" class="t">6</text>
<text x="504.1" y="464.3" text-anchor="middle" class="t">7</text>
<path d="M545.7,445.4v5.5M545.7,329.8v-5.5M568.68,445.4v5.5M568.68,329.8v-5.5M591.66,445.4v5.5M591.66,329.8v-5.5M614.63,445.4v5.5M614.63,329.8v-5.5M637.61,445.4v5.5M637.61,329.8v-5.5M660.59,445.4v5.5M660.59,329.8v-5.5M683.57,445.4v5.5M683.57,329.8v-5.5M706.54,445.4v5.5M706.54,329.8v-5.5M729.52,445.4v5.5M729.52,329.8v-5.5M752.5,445.4v5.5M752.5,329.8v-5.5M545.7,445.4h-5.5M752.5,445.4h5.5M545.7,416.5h-5.5M752.5,416.5h5.5M545.7,387.6h-5.5M752.5,387.6h5.5M545.7,358.7h-5.5M752.5,358.7h5.5M545.7,329.8h-5.5M752.5,329.8h5.5" stroke="#333333" stroke-width="0.9" fill="none"/>
<rect x="545.7" y="329.8" width="206.8" height="115.6" fill="none" stroke="#333333" stroke-width="1.25"/>
<text x="545.7" y="464.3" text-anchor="middle" class="t">−2</text>
<text x="568.68" y="464.3" text-anchor="middle" class="t">−1</text>
<text x="591.66" y="464.3" text-anchor="middle" class="t">0</text>
<text x="614.63" y="464.3" text-anchor="middle" class="t">1</text>
<text x="637.61" y="464.3" text-anchor="middle" class="t">2</text>
<text x="660.59" y="464.3" text-anchor="middle" class="t">3</text>
<text x="683.57" y="464.3" text-anchor="middle" class="t">4</text>
<text x="706.54" y="464.3" text-anchor="middle" class="t">5</text>
<text x="729.52" y="464.3" text-anchor="middle" class="t">6</text>
<text x="752.5" y="464.3" text-anchor="middle" class="t">7</text>
<text transform="translate(152.3,480.6) scale(1.06,1)" text-anchor="middle" class="l"><tspan font-style="italic">α</tspan></text>
<text transform="translate(400.73,480.6) scale(1.06,1)" text-anchor="middle" class="l"><tspan font-style="italic">α</tspan></text>
<text transform="translate(649.1,480.6) scale(1.06,1)" text-anchor="middle" class="l"><tspan font-style="italic">α</tspan></text>
<text transform="translate(16.7,387.6) rotate(-90) scale(1.1,1)" text-anchor="middle" class="l"><tspan font-style="italic">p</tspan>(<tspan font-style="italic">α</tspan>)</text>
</svg>
</body></html>
